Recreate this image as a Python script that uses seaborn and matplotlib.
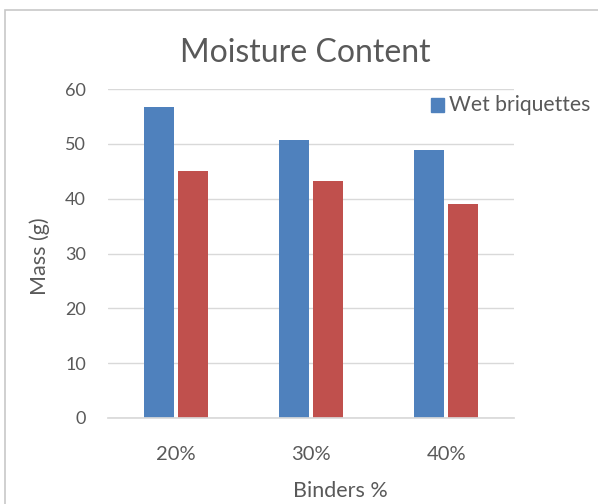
import matplotlib
matplotlib.use("Agg")
import matplotlib.pyplot as plt
import seaborn as sns
import pandas as pd
from matplotlib.patches import Rectangle

binders = ["20%", "30%", "40%"]
wet_mass = [56.7, 50.7, 48.9]
dry_mass = [45.0, 43.3, 39.0]
series_names = ["Wet briquettes", "Dry briquettes"]
y_ticks = [0, 10, 20, 30, 40, 50, 60]

df = pd.DataFrame({
    "Binders": binders * 2,
    "Mass": wet_mass + dry_mass,
    "Series": [series_names[0]] * 3 + [series_names[1]] * 3,
})

sns.set_theme(style="white")
plt.rcParams["font.family"] = ["Lato", "DejaVu Sans"]
text_color = "#595959"

W, H = 598, 504
fig = plt.figure(figsize=(W / 100, H / 100), dpi=100)

def fx(px):
    return px / W

def fy(py):
    return 1 - py / H

ax = fig.add_axes([fx(108), fy(418), fx(514) - fx(108), fy(89) - fy(418)])

sns.barplot(data=df, x="Binders", y="Mass", hue="Series", order=binders,
            palette=["#4F81BD", "#C0504D"], width=0.504, gap=0.12,
            saturation=1, ax=ax, legend=False, edgecolor="none")

ax.set_ylim(0, 60)
ax.set_yticks(y_ticks)
ax.grid(axis="y", color="#d9d9d9", linewidth=1)
ax.set_axisbelow(True)
for s in ["top", "right", "left"]:
    ax.spines[s].set_visible(False)
ax.spines["bottom"].set_color("#d9d9d9")
ax.tick_params(axis="y", length=0, pad=16, labelsize=13, labelcolor=text_color)
ax.tick_params(axis="x", length=0, pad=20, labelsize=14.5, labelcolor=text_color)
ax.set_xlabel("")
ax.set_ylabel("")

fig.text(fx(305), fy(53), "Moisture Content", ha="center", va="center",
         fontsize=23, color=text_color)
fig.text(fx(340), fy(491), "Binders %", ha="center", va="center",
         fontsize=15.5, color=text_color)
fig.text(fx(40), fy(256), "Mass (g)", ha="center", va="center",
         rotation=90, fontsize=15.5, color=text_color)

# legend entry for the first series
fig.patches.append(Rectangle((fx(431), fy(111.5)), fx(13), 13 / H,
                             transform=fig.transFigure, color="#4F81BD"))
fig.text(fx(449), fy(105), series_names[0], ha="left", va="center",
         fontsize=15.2, color=text_color)

# chart area frame
fig.patches.append(Rectangle((fx(5), -0.01), 1.2, fy(10) + 0.01,
                             transform=fig.transFigure, fill=False,
                             edgecolor="#c8c8c8", linewidth=1.2))

fig.savefig("out.png", dpi=100, facecolor="white")
